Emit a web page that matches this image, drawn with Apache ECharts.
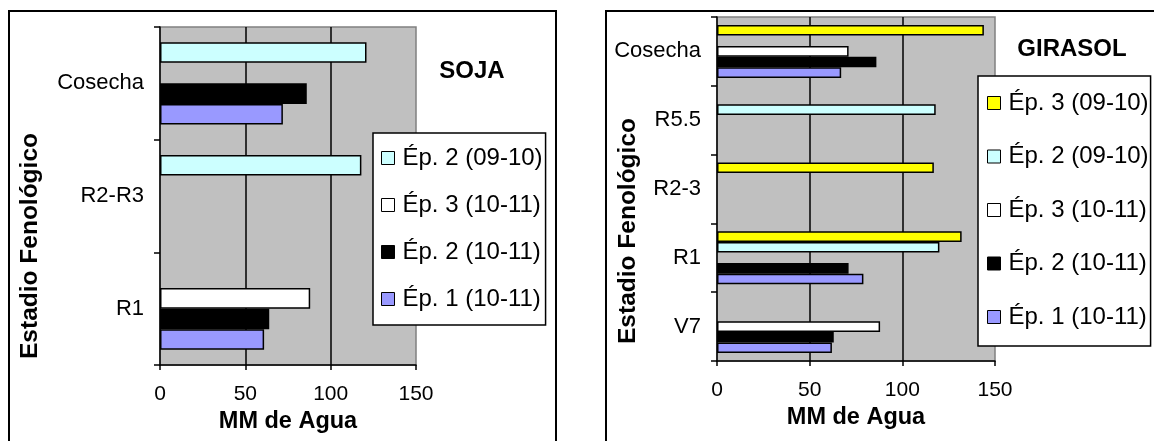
<!DOCTYPE html>
<html>
<head>
<meta charset="utf-8">
<script src="https://cdn.jsdelivr.net/npm/echarts@6/dist/echarts.min.js"></script>
<style>
  html, body { margin: 0; padding: 0; background: #fff; }
  #chart { width: 1154px; height: 441px; }
</style>
</head>
<body>
<div id="chart"></div>
<script>
// Water use (mm) by phenological stage, soybean and sunflower
const xTicks = [0, 50, 100, 150];

// SOJA
const sojaStages = ['R1', 'R2-R3', 'Cosecha'];
const sojaEp2_0910 = [null, 118, 121];
const sojaEp3_1011 = [88, null, null];
const sojaEp2_1011 = [64, null, 86];
const sojaEp1_1011 = [61, null, 72];

// GIRASOL
const girasolStages = ['V7', 'R1', 'R2-3', 'R5.5', 'Cosecha'];
const girasolEp3_0910 = [null, 132, 117, null, 144];
const girasolEp2_0910 = [null, 120, null, 118, null];
const girasolEp3_1011 = [88, null, null, null, 71];
const girasolEp2_1011 = [63, 71, null, null, 86];
const girasolEp1_1011 = [62, 79, null, null, 67];

const NAMES = {
  e3a: 'Ép. 3 (09-10)',
  e2a: 'Ép. 2 (09-10)',
  e3b: 'Ép. 3 (10-11)',
  e2b: 'Ép. 2 (10-11)',
  e1b: 'Ép. 1 (10-11)'
};
const COLORS = {
  e3a: '#FFFF00',
  e2a: '#CCFFFF',
  e3b: '#FFFFFF',
  e2b: '#000000',
  e1b: '#9999FF'
};

const FONT = 'Liberation Sans, Arial, sans-serif';

function bar(key, data, idx) {
  return {
    type: 'bar',
    name: NAMES[key],
    data: data,
    xAxisIndex: idx,
    yAxisIndex: idx,
    barGap: '0%',
    barCategoryGap: idx === 0 ? '27%' : '23%',
    itemStyle: { color: COLORS[key], borderColor: '#000', borderWidth: 1.5 },
    emphasis: { disabled: true }
  };
}

function valueAxis(idx) {
  return {
    type: 'value',
    gridIndex: idx,
    min: xTicks[0],
    max: xTicks[xTicks.length - 1],
    interval: xTicks[1] - xTicks[0],
    name: 'MM de Agua',
    nameLocation: 'middle',
    nameGap: 45,
    nameTextStyle: { fontFamily: FONT, fontSize: 23.5, fontWeight: 'bold', color: '#000' },
    axisLine: { show: true, lineStyle: { color: '#000', width: 1.5 } },
    axisTick: { show: true, length: 5, lineStyle: { color: '#000', width: 1.5 } },
    axisLabel: { fontFamily: FONT, fontSize: 21, color: '#000', margin: 19 },
    splitLine: { show: true, showMinLine: false, showMaxLine: false, lineStyle: { color: '#000', width: 1.5 } }
  };
}

function categoryAxis(idx, cats) {
  return {
    type: 'category',
    gridIndex: idx,
    data: cats,
    axisLine: { show: true, lineStyle: { color: '#000', width: 1.5 } },
    axisTick: { show: true, length: 6, alignWithLabel: false, lineStyle: { color: '#000', width: 1.5 } },
    axisLabel: { fontFamily: FONT, fontSize: 22, color: '#000', margin: 16 },
    splitLine: { show: false }
  };
}

function legend(left, top, names, gap, padding) {
  return {
    orient: 'vertical',
    left: left,
    top: top,
    data: names,
    icon: 'rect',
    itemWidth: 13,
    itemHeight: 13,
    itemGap: gap,
    padding: padding,
    backgroundColor: '#fff',
    borderColor: '#000',
    borderWidth: 1.5,
    borderRadius: 0,
    selectedMode: false,
    itemStyle: { borderColor: '#000', borderWidth: 1 },
    textStyle: { fontFamily: FONT, fontSize: 24, color: '#000', lineHeight: 24, padding: [0, 0, 0, 3] }
  };
}

const chart = echarts.init(document.getElementById('chart'), null, { renderer: 'canvas' });

chart.setOption({
  animation: false,
  backgroundColor: '#fff',
  grid: [
    { left: 160, top: 27, width: 256, height: 338, show: true, backgroundColor: '#C0C0C0', borderColor: '#808080', borderWidth: 1.5 },
    { left: 717, top: 17, width: 278, height: 344, show: true, backgroundColor: '#C0C0C0', borderColor: '#808080', borderWidth: 1.5 }
  ],
  xAxis: [valueAxis(0), valueAxis(1)],
  yAxis: [categoryAxis(0, sojaStages), categoryAxis(1, girasolStages)],
  legend: [
    legend(373, 133, [NAMES.e2a, NAMES.e3b, NAMES.e2b, NAMES.e1b], 23, [13, 3, 14, 8]),
    legend(978, 76, [NAMES.e3a, NAMES.e2a, NAMES.e3b, NAMES.e2b, NAMES.e1b], 29.5, [15, 2, 17, 9])
  ],
  title: [
    { text: 'SOJA', left: 467, top: 66, textAlign: 'center', textVerticalAlign: 'middle',
      textStyle: { fontFamily: FONT, fontSize: 24, fontWeight: 'bold', color: '#000' } },
    { text: 'GIRASOL', left: 1067, top: 44, textAlign: 'center', textVerticalAlign: 'middle',
      textStyle: { fontFamily: FONT, fontSize: 24, fontWeight: 'bold', color: '#000' } }
  ],
  graphic: [
    // panel frames
    { type: 'rect', shape: { x: 9, y: 11, width: 547, height: 460 }, style: { fill: 'none', stroke: '#000', lineWidth: 2 }, z: 0 },
    { type: 'rect', shape: { x: 606, y: 11, width: 570, height: 460 }, style: { fill: 'none', stroke: '#000', lineWidth: 2 }, z: 0 },
    // vertical axis titles
    { type: 'text', x: 30, y: 246, rotation: Math.PI / 2,
      style: { text: 'Estadio Fenológico', fontFamily: FONT, fontSize: 24.5, fontWeight: 'bold', fill: '#000', align: 'center', verticalAlign: 'middle' } },
    { type: 'text', x: 628, y: 231, rotation: Math.PI / 2,
      style: { text: 'Estadio Fenológico', fontFamily: FONT, fontSize: 24.5, fontWeight: 'bold', fill: '#000', align: 'center', verticalAlign: 'middle' } }
  ],
  series: [
    bar('e2a', sojaEp2_0910, 0),
    bar('e3b', sojaEp3_1011, 0),
    bar('e2b', sojaEp2_1011, 0),
    bar('e1b', sojaEp1_1011, 0),
    bar('e3a', girasolEp3_0910, 1),
    bar('e2a', girasolEp2_0910, 1),
    bar('e3b', girasolEp3_1011, 1),
    bar('e2b', girasolEp2_1011, 1),
    bar('e1b', girasolEp1_1011, 1)
  ]
});
</script>
</body>
</html>
